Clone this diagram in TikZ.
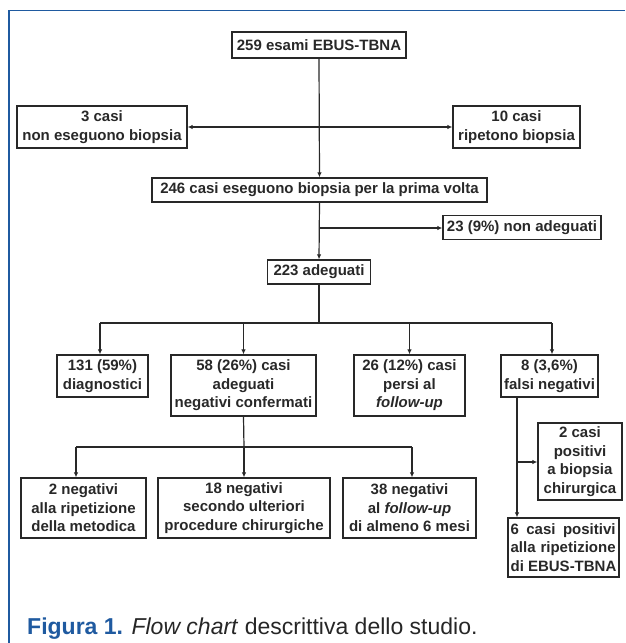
\documentclass[tikz,border=0pt]{standalone}
\usepackage{fontspec}
\setmainfont{Liberation Sans}
\usetikzlibrary{arrows.meta,calc}
\definecolor{frameblue}{RGB}{31,90,160}
\definecolor{ink}{RGB}{40,40,40}
\begin{document}
\begin{tikzpicture}[x=1pt,y=-1pt,
  box/.style={draw=ink, line width=1.3pt, rectangle, inner sep=0pt, align=center,
    font=\fontsize{15}{18.5}\selectfont\bfseries, text=ink},
  conn/.style={draw=ink, line width=1.2pt},
  arr/.style={conn, -{Latex[length=5pt,width=4.5pt]}}
]
\useasboundingbox (0,0) rectangle (625,643);
% frame
\draw[frameblue, line width=1.6pt] (9,643) -- (9,10.5) -- (625,10.5);
% nodes
\node[box, minimum width=174pt, minimum height=26pt] (top) at (319,45) {259 esami EBUS-TBNA};
\node[box, minimum width=170pt, minimum height=42pt] (nb) at (102,127) {3 casi\\non eseguono biopsia};
\node[box, minimum width=127pt, minimum height=42pt] (rb) at (516.5,127) {10 casi\\ripetono biopsia};
\node[box, minimum width=335pt, minimum height=24pt] (first) at (319.5,190) {246 casi eseguono biopsia per la prima volta};
\node[box, minimum width=158pt, minimum height=24pt] (na) at (522,227.5) {23 (9\%) non adeguati};
\node[box, minimum width=103pt, minimum height=24pt] (ad) at (319,272) {223 adeguati};
\node[box, minimum width=91pt, minimum height=42pt] (diag) at (102.5,376) {131 (59\%)\\diagnostici};
\node[box, minimum width=145pt, minimum height=61pt] (neg) at (243.5,385.5) {58 (26\%) casi\\adeguati\\negativi confermati};
\node[box, minimum width=111pt, minimum height=61pt] (lost) at (409.5,385.5) {26 (12\%) casi\\persi al\\\textit{follow-up}};
\node[box, minimum width=97pt, minimum height=42pt] (fn) at (549.5,376) {8 (3,6\%)\\falsi negativi};
\node[box, minimum width=125pt, minimum height=60pt] (n2) at (83.5,508) {2 negativi\\alla ripetizione\\della metodica};
\node[box, minimum width=172pt, minimum height=60pt] (n18) at (244,508) {18 negativi\\secondo ulteriori\\procedure chirurgiche};
\node[box, minimum width=133pt, minimum height=60pt] (n38) at (409.5,508) {38 negativi\\al \textit{follow-up}\\di almeno 6 mesi};
\node[box, minimum width=84pt, minimum height=77pt] (p2) at (580,461.5) {2 casi\\positivi\\a biopsia\\chirurgica};
\node[box, minimum width=111pt, minimum height=59pt, align=left] (p6) at (563.5,547.5)
  {\makebox[105pt][s]{6 casi  positivi}\\\makebox[105pt][s]{alla ripetizione}\\di EBUS-TBNA};
% coordinates
\coordinate (j1) at (319,127);
\coordinate (j2) at (319,228);
\coordinate (bus1) at (319,323);
\coordinate (bus2) at (244,447);
\coordinate (a1) at (100,323);
\coordinate (a4) at (552,323);
\coordinate (b1) at (76,447);
\coordinate (b3) at (412,447);
\coordinate (fnx) at (517,397);
\coordinate (j3) at (517,462);
% connectors
\draw[arr] (top.south) -- (first.north);
\draw[arr] (j1) -- (nb.east);
\draw[arr] (j1) -- (rb.west);
\draw[arr] (first.south) -- (ad.north);
\draw[arr] (j2) -- (j2 -| na.west);
\draw[conn] (ad.south) -- (bus1);
\draw[conn] (a1) -- (a4);
\draw[arr] (a1) -- (a1 |- diag.north);
\draw[arr] (bus1 -| neg.north) -- (neg.north);
\draw[arr] (bus1 -| lost.north) -- (lost.north);
\draw[arr] (a4) -- (a4 |- fn.north);
\draw[conn] (neg.south) -- (bus2);
\draw[conn] (b1) -- (b3);
\draw[arr] (b1) -- (b1 |- n2.north);
\draw[arr] (bus2) -- (n18.north);
\draw[arr] (b3) -- (b3 |- n38.north);
\draw[arr] (fnx) -- (fnx |- p6.north);
\draw[arr] (j3) -- (j3 -| p2.west);
% caption
\node[anchor=base west, inner sep=0pt, font=\fontsize{23}{27}\selectfont] (cap) at (27,634)
  {\textcolor{frameblue}{\bfseries Figura 1.} \textcolor{black!85}{\textit{Flow chart} descrittiva dello studio.}};
\end{tikzpicture}
\end{document}
